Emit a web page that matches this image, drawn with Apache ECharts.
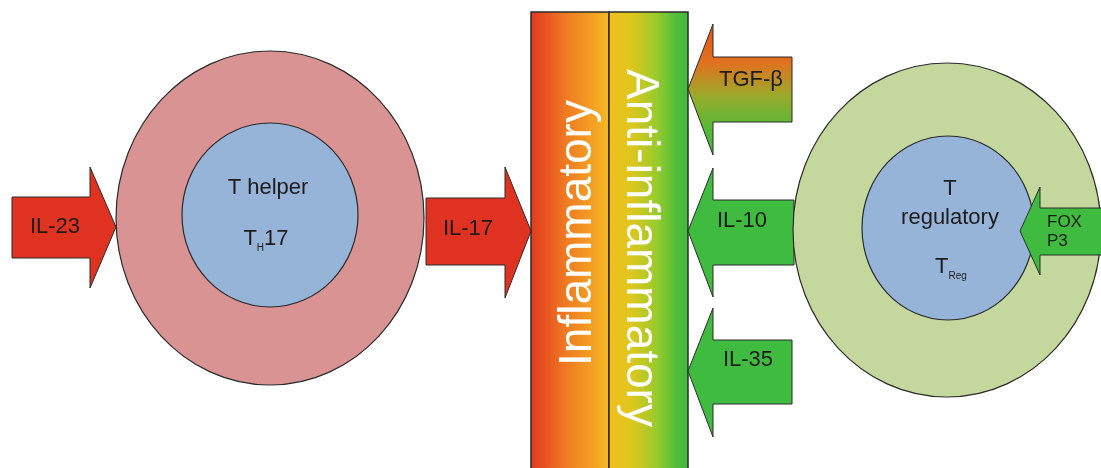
<!DOCTYPE html>
<html><head><meta charset="utf-8">
<script src="https://cdn.jsdelivr.net/npm/echarts@6/dist/echarts.min.js"></script>
<style>html,body{margin:0;padding:0;background:#fff}#c{width:1101px;height:468px}</style>
</head><body><div id="c"></div>
<script>
// ---- diagram data (diagram units on hidden value axes) ----
const cellNames = ['T helper', 'T regulatory'];
// centre x, centre y, radius x, radius y
const cellOuter = [[270, 218, 154, 167], [947, 230, 154, 167]];
const cellInner = [[270, 215, 88, 92], [948, 228, 86, 92]];
const cellTexts = ['T helper', '{t|T}{s|H}{t|17}', 'T', 'regulatory', '{t|T}{s|Reg}'];
const cellTextAt = [[268, 188], [266, 239], [950, 189], [950, 218], [951, 267]];

// bar segments: x0, x1, y0, y1
const barSegments = [[531, 609, 12, 490], [609, 688, 12, 490]];
const barLabels = ['Inflammatory', 'Anti-inflammatory'];
const barLabelAt = [[578, 233], [640, 248]];

// arrows: tipX, tipY, headBaseX, tailX, bodyTop, bodyBottom, headTop, headBottom
const cytokines = ['IL-23', 'IL-17', 'TGF-β', 'IL-10', 'IL-35'];
const cytokineArrows = [
  [116, 227, 90, 12, 197, 258, 167, 288],
  [531, 231, 505, 426, 198, 265, 167, 298],
  [688, 89, 713, 792, 57, 122, 24, 155],
  [688, 231, 713, 794, 200, 265, 168, 297],
  [688, 371, 713, 792, 340, 404, 308, 437]
];
const cytokineLabelAt = [[55, 227], [468, 229], [751, 80], [742, 221], [748, 360]];
const factorLines = ['FOX', 'P3'];
const factorArrow = [[1020, 231, 1040, 1102, 208, 255, 187, 275]];
const factorLabelAt = [[1047, 222], [1047, 241]];

// ---- styles ----
const RED = '#df3220', GREEN = '#3fbb3f', EDGE = '#2b2b2b', INK = '#1c1c1c';
const FONT = 'Liberation Sans, Arial, Helvetica, sans-serif';
const cytokineFill = i => {
  if (i < 2) return RED;
  if (i === 2) return new echarts.graphic.LinearGradient(0, 0, 0, 1, [
    { offset: 0, color: '#e8521c' }, { offset: 0.3, color: '#e0721f' },
    { offset: 0.55, color: '#9aab2b' }, { offset: 0.8, color: '#55b937' }, { offset: 1, color: '#45b93c' }]);
  return GREEN;
};
const barFill = i => i === 0
  ? new echarts.graphic.LinearGradient(0, 0, 1, 0, [
      { offset: 0, color: '#e2381f' }, { offset: 0.45, color: '#ef7b22' }, { offset: 1, color: '#f6b923' }])
  : new echarts.graphic.LinearGradient(0, 0, 1, 0, [
      { offset: 0, color: '#f4c01b' }, { offset: 0.3, color: '#dcc71e' }, { offset: 0.6, color: '#98cb2b' },
      { offset: 0.85, color: '#52bd3a' }, { offset: 1, color: '#3db93e' }]);

function arrowRenderer(fillFn) {
  return function (params, api) {
    const v = k => api.value(k);
    const p = (x, y) => api.coord([x, y]);
    const tipX = v(0), tipY = v(1), hb = v(2), tail = v(3), bT = v(4), bB = v(5), hT = v(6), hB = v(7);
    return {
      type: 'polygon',
      shape: { points: [p(tail, bT), p(hb, bT), p(hb, hT), p(tipX, tipY), p(hb, hB), p(hb, bB), p(tail, bB)] },
      style: { fill: fillFn(params.dataIndex), stroke: EDGE, lineWidth: 1 }
    };
  };
}
function ellipseRenderer(fills) {
  return function (params, api) {
    const c = api.coord([api.value(0), api.value(1)]);
    const s = api.size([api.value(2), api.value(3)]);
    return {
      type: 'ellipse',
      shape: { cx: c[0], cy: c[1], rx: Math.abs(s[0]), ry: Math.abs(s[1]) },
      style: { fill: fills[params.dataIndex], stroke: EDGE, lineWidth: 1.2 }
    };
  };
}
function textRenderer(texts, opts) {
  return function (params, api) {
    const c = api.coord([api.value(0), api.value(1)]);
    const i = params.dataIndex;
    const o = typeof opts === 'function' ? opts(i) : opts;
    return {
      type: 'text', x: c[0], y: c[1], rotation: o.rotation || 0,
      style: {
        text: texts[i], fill: o.color || INK, fontSize: o.size, fontFamily: FONT,
        fontWeight: o.weight || 'normal', align: o.align || 'center', verticalAlign: 'middle',
        rich: o.rich
      }
    };
  };
}

const chart = echarts.init(document.getElementById('c'), null, { renderer: 'canvas' });
const subRich = {
  t: { fontSize: 22, fontFamily: FONT, fill: INK, color: INK, lineHeight: 28, verticalAlign: 'middle' },
  s: { fontSize: 10, fontFamily: FONT, fill: INK, color: INK, lineHeight: 10, verticalAlign: 'bottom' }
};
chart.setOption({
  animation: false,
  grid: { left: 0, right: 0, top: 0, bottom: 0 },
  xAxis: { type: 'value', min: 0, max: 1101, show: false },
  yAxis: { type: 'value', min: 0, max: 468, inverse: true, show: false },
  series: [
    { type: 'custom', name: 'bar', z: 1, clip: false, data: barSegments,
      renderItem: function (params, api) {
        const a = api.coord([api.value(0), api.value(2)]);
        const b = api.coord([api.value(1), api.value(3)]);
        return { type: 'rect', shape: { x: a[0], y: a[1], width: b[0] - a[0], height: b[1] - a[1] },
          style: { fill: barFill(params.dataIndex), stroke: EDGE, lineWidth: 1.5 } };
      } },
    { type: 'custom', name: 'cytokines', z: 2, clip: false, data: cytokineArrows,
      renderItem: arrowRenderer(cytokineFill) },
    { type: 'custom', name: 'cells outer', z: 3, clip: false, data: cellOuter,
      renderItem: ellipseRenderer(['#d99392', '#c4d89e']) },
    { type: 'custom', name: 'cells inner', z: 4, clip: false, data: cellInner,
      renderItem: ellipseRenderer(['#96b3d8', '#96b3d8']) },
    { type: 'custom', name: 'FOXP3', z: 5, clip: false, data: factorArrow,
      renderItem: arrowRenderer(() => GREEN) },
    { type: 'custom', name: 'bar labels', z: 10, clip: false, data: barLabelAt,
      renderItem: textRenderer(barLabels, i => ({ size: 46, color: '#fff', weight: 300,
        rotation: i === 0 ? Math.PI / 2 : -Math.PI / 2 })) },
    { type: 'custom', name: 'cytokine labels', z: 10, clip: false, data: cytokineLabelAt,
      renderItem: textRenderer(cytokines, { size: 22 }) },
    { type: 'custom', name: 'factor labels', z: 10, clip: false, data: factorLabelAt,
      renderItem: textRenderer(factorLines, { size: 17, align: 'left' }) },
    { type: 'custom', name: 'cell labels', z: 10, clip: false, data: cellTextAt,
      renderItem: textRenderer(cellTexts, { size: 22, rich: subRich }) }
  ]
});
</script></body></html>
